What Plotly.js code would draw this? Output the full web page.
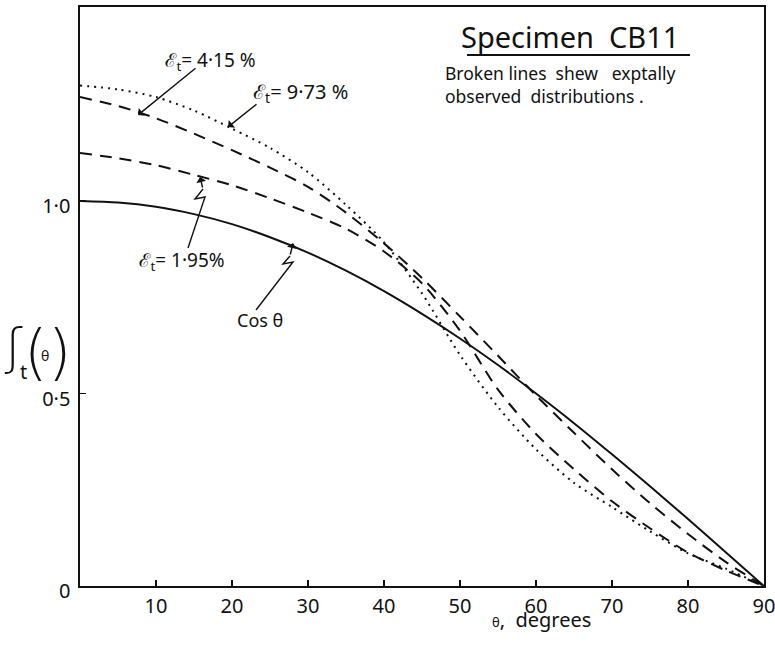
<!DOCTYPE html>
<html>
<head>
<meta charset="utf-8">
<script src="https://cdn.plot.ly/plotly-3.0.1.min.js"></script>
<style>html,body{margin:0;padding:0;background:#fff;}#chart{width:775px;height:647px;}</style>
</head>
<body>
<div id="chart"></div>
<script>
// theta, degrees
const theta = [0,5,10,15,20,25,30,35,40,45,50,55,60,65,70,75,80,85,90];
// Cos theta (solid)
const cosTheta = [1.0,0.996,0.985,0.966,0.94,0.906,0.866,0.819,0.766,0.707,0.643,0.574,0.5,0.423,0.342,0.259,0.174,0.087,0];
// epsilon_t = 1.95 % (dashed, starts lower)
const eps195 = [1.125,1.111,1.093,1.068,1.041,1.007,0.97,0.928,0.869,0.786,0.663,0.51,0.395,0.303,0.22,0.15,0.087,0.04,0];
// epsilon_t = 4.15 % (dashed, starts higher)
const eps415 = [1.27,1.247,1.215,1.175,1.132,1.087,1.037,0.97,0.89,0.80,0.70,0.598,0.495,0.398,0.303,0.215,0.135,0.062,0];
// epsilon_t = 9.73 % (dotted)
const eps973 = [1.30,1.29,1.27,1.235,1.188,1.138,1.075,0.99,0.893,0.76,0.6,0.465,0.355,0.268,0.205,0.142,0.085,0.045,0];

const xTicks = [10,20,30,40,50,60,70,80,90];
const xTickText = ['10','20','30','40','50','60','70','80','90'];
const yTicks = [0,0.5,1.0];
const yTickText = ['0','0·5','1·0'];

const FONT = 'Noto Sans, DejaVu Sans, sans-serif';
const ink = '#111';

const traces = [
  {x: theta, y: cosTheta, mode:'lines', line:{color:ink, width:2, shape:'spline', smoothing:0.8}, name:'Cos θ'},
  {x: theta, y: eps195, mode:'lines', line:{color:ink, width:2, dash:'12px,8px', shape:'spline', smoothing:0.8}, name:'1.95%'},
  {x: theta, y: eps415, mode:'lines', line:{color:ink, width:2, dash:'12px,8px', shape:'spline', smoothing:0.8}, name:'4.15%'},
  {x: theta, y: eps973, mode:'lines', line:{color:ink, width:2, dash:'2px,5px', shape:'spline', smoothing:0.8}, name:'9.73%'}
];

// decoration helpers: page pixels -> axis units (plot area 80..764 x, 586..7 y)
const px = p => (p - 80) / 7.6;
const py = p => (586 - p) / 385;

function arrow(tx, ty, hx, hy){
  return {x:px(hx), y:py(hy), ax:px(tx), ay:py(ty), xref:'x', yref:'y', axref:'x', ayref:'y',
          text:'', showarrow:true, arrowhead:1, arrowsize:1.2, arrowwidth:1.4, arrowcolor:ink, standoff:0, startstandoff:0};
}
function label(txt, x, y, size, anchor){
  return {x:px(x), y:py(y), xref:'x', yref:'y', text:txt, showarrow:false, xanchor:anchor||'left', yanchor:'middle',
          font:{family:FONT, size:size, color:ink}, align:'left'};
}
function ppiece(txt, cx, cy, size, fam, weight){
  return {x:(cx-80)/684, y:(586-cy)/579, xref:'paper', yref:'paper', text:txt, showarrow:false,
          xanchor:'center', yanchor:'middle', font:{family:fam||FONT, size:size, color:ink, weight:weight||400}};
}
function zig(points){
  let d = '';
  points.forEach((p,i) => { d += (i ? ' L ' : 'M ') + px(p[0]) + ',' + py(p[1]); });
  return {type:'path', xref:'x', yref:'y', path:d, line:{color:ink, width:1.4}};
}

const annotations = [
  label('ℰ<sub>t</sub>= 4·15 %', 163, 61, 19),
  label('ℰ<sub>t</sub>= 9·73 %', 251, 92, 20),
  label('ℰ<sub>t</sub>= 1·95%', 137, 261, 19),
  label('Cos θ', 235, 320, 18),
  label('Specimen  CB11', 570, 36, 29, 'center'),
  label('Broken lines  shew   exptally<br>observed  distributions .', 443, 84, 17.5),
  arrow(197, 67, 138, 115),
  arrow(258, 103, 228, 127),
  arrow(203, 189, 200, 177),
  arrow(290, 256, 293, 243),
  {x:px(541), y:(586-619)/579, xref:'x', yref:'paper', text:'<span style="font-size:13px">θ</span>,  degrees', showarrow:false,
   xanchor:'center', yanchor:'middle', font:{family:FONT, size:20, color:ink}},
  ppiece('ʃ', 13, 347, 50, 'DejaVu Sans, sans-serif', 300),
  ppiece('t', 23, 372, 20),
  ppiece('(', 35, 352, 60, 'DejaVu Sans, sans-serif', 200),
  ppiece('θ', 45, 355, 14),
  ppiece(')', 59, 352, 60, 'DejaVu Sans, sans-serif', 200)
];

const layout = {
  width:775, height:647,
  margin:{l:80, r:11, t:7, b:61},
  paper_bgcolor:'#fff', plot_bgcolor:'#fff',
  showlegend:false,
  font:{family:FONT, color:ink},
  xaxis:{range:[0,90], tickvals:xTicks, ticktext:xTickText, ticks:'inside', ticklen:6, tickwidth:1.2, tickcolor:ink,
         showline:true, linecolor:ink, linewidth:1.6, mirror:true, showgrid:false, zeroline:false,
         tickfont:{family:FONT, size:20, color:ink}, ticklabelstandoff:1, ticklabeloverflow:'allow'},
  yaxis:{range:[0,1.504], tickvals:yTicks, ticktext:yTickText, ticks:'inside', ticklen:6, tickwidth:1.2, tickcolor:ink,
         showline:true, linecolor:ink, linewidth:1.6, mirror:true, showgrid:false, zeroline:false,
         tickfont:{family:FONT, size:20, color:ink}, ticklabelstandoff:4, ticklabelshift:5, ticklabeloverflow:'allow'},
  shapes:[
    {type:'line', xref:'x', yref:'y', x0:px(467), x1:px(690), y0:py(55), y1:py(55), line:{color:ink, width:2}},
    zig([[203,189],[195,199],[205,197],[188,248]]),
    zig([[290,256],[283,264],[293,262],[256,310]])
  ],
  annotations: annotations
};

Plotly.newPlot('chart', traces, layout, {displayModeBar:false, staticPlot:true});
</script>
</body>
</html>
